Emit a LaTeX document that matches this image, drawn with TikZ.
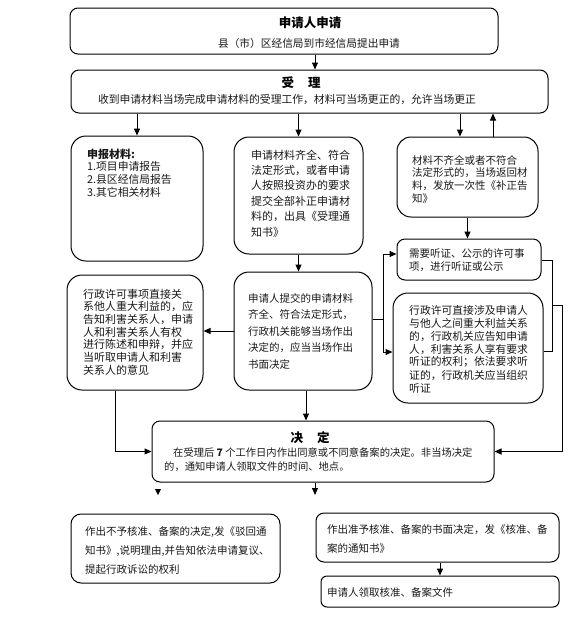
\documentclass[tikz,border=0pt]{standalone}
\usepackage{fontspec}
\setmainfont{Noto Sans CJK SC}
\usetikzlibrary{arrows.meta}
\newcommand\bx[6]{%
  \pgfmathsetmacro\bxw{#4-#2}\pgfmathsetmacro\bxh{#5-#3}%
  \pgfmathsetmacro\bxx{(#2+#4)/2}\pgfmathsetmacro\bxy{(#3+#5)/2}%
  \node[box, rounded corners=#6pt, minimum width=\bxw pt, minimum height=\bxh pt] (#1) at (\bxx,\bxy) {};}
\newcommand\tlines[6]{%
  \foreach \mytext [count=\myi] in {#6}{\node[txt,#2] (#1\myi) at (#3,{#4+(\myi-1)*#5}) {\mytext};}}
\begin{document}
\begin{tikzpicture}[x=1pt,y=-1pt,
  box/.style={draw, line width=1pt, inner sep=0},
  arr/.style={line width=1pt, -{Triangle[length=7pt,width=6pt]}},
  ln/.style={line width=1pt},
  txt/.style={anchor=west, inner sep=0, font=\fontsize{10.5}{12}\selectfont, text=black!90},
  ttl/.style={anchor=center, inner sep=0, font=\fontsize{12.5}{14}\selectfont\bfseries}]
\useasboundingbox (0,0) rectangle (588,625);
% boxes
\bx{A}{70}{8}{498}{54}{8}
\bx{B}{71}{70}{548}{113}{8}
\bx{C}{71}{136}{203}{261}{15}
\bx{D}{234}{137}{363}{254}{15}
\bx{E}{397}{137}{538}{217}{14}
\bx{F}{397}{239}{541}{280}{8}
\bx{G}{393}{293}{543}{403}{15}
\bx{H}{234}{272}{372}{390}{15}
\bx{I}{67}{275}{203}{390}{15}
\bx{J}{152}{421}{494}{482}{8}
\bx{K}{71}{514}{280}{583}{10}
\bx{L}{316}{513}{559}{562}{8}
\bx{M}{321}{576}{559}{607}{6}
% texts
\node[ttl] (At) at (310,23) {申请人申请};
\node[txt,anchor=center,font=\fontsize{10.7}{12}\selectfont] (As) at (309,43) {县（市）区经信局到市经信局提出申请};
\node[ttl] (Bt) at (301,83) {受\hspace{14pt}理};
\node[txt,anchor=center,font=\fontsize{10.8}{12}\selectfont] (Bs) at (287,99) {收到申请材料当场完成申请材料的受理工作，材料可当场更正的，允许当场更正};
\node[txt,font=\fontsize{11}{12}\selectfont\bfseries] (Ct) at (87,154) {申报材料:};
\tlines{Ct}{font=\fontsize{10.8}{12}\selectfont}{87}{166}{13}{1.项目申请报告,2.县区经信局报告,3.其它相关材料}
\tlines{Dt}{font=\fontsize{11}{12}\selectfont}{251}{155}{15.4}{申请材料齐全、符合,法定形式，或者申请,人按照投资办的要求,提交全部补正申请材,料的，出具《受理通,知书》}
\tlines{Et}{}{412}{160}{12.8}{材料不齐全或者不符合,法定形式的，当场返回材,料，发放一次性《补正告,知》}
\tlines{Ft}{}{409}{253}{14}{需要听证、公示的许可事,项，进行听证或公示}
\tlines{Gt}{font=\fontsize{10.8}{12}\selectfont}{409}{310}{13}{行政许可直接涉及申请人,与他人之间重大利益关系,的，行政机关应告知申请,人，利害关系人享有要求,听证的权利；依法要求听,证的，行政机关应当组织,听证}
\tlines{Ht}{}{248}{298}{16.7}{申请人提交的申请材料,齐全、符合法定形式，,行政机关能够当场作出,决定的，应当当场作出,书面决定}
\tlines{It}{font=\fontsize{11}{12}\selectfont}{83}{294}{12.7}{行政许可事项直接关,系他人重大利益的，应,告知利害关系人，申请,人和利害关系人有权,进行陈述和申辩，并应,当听取申请人和利害,关系人的意见}
\node[ttl] (Jt) at (310,438) {决\hspace{14pt}定};
\node[txt,font=\fontsize{10.3}{12}\selectfont] (Jt1) at (173,453) {在受理后 {\bfseries 7} 个工作日内作出同意或不同意备案的决定。非当场决定};
\node[txt,font=\fontsize{10.3}{12}\selectfont] (Jt2) at (164,467) {的，通知申请人领取文件的时间、地点。};
\tlines{Kt}{}{85}{532}{19}{{作出不予核准、备案的决定,发《驳回通},{知书》,说明理由,并告知依法申请复议、},提起行政诉讼的权利}
\tlines{Lt}{}{327}{530}{19}{作出准予核准、备案的书面决定，发《核准、备,案的通知书》}
\node[txt] (Mt) at (327,592) {申请人领取核准、备案文件};
% helper coordinates
\coordinate (x115) at (115,0);
\coordinate (x306) at (306,0);
\coordinate (x315) at (315,0);
\coordinate (x383) at (383,0);
\coordinate (x440) at (440,0);
\coordinate (x460) at (460,0);
\coordinate (x493) at (493,0);
\coordinate (x552) at (552,0);
\coordinate (x562) at (562,0);
\coordinate (y254) at (0,254);
\coordinate (y260) at (0,260);
\coordinate (y305) at (0,305);
\coordinate (y319) at (0,319);
\coordinate (y351) at (0,351);
\coordinate (y352) at (0,352);
\coordinate (Jend) at (315,495);
% connectors
\draw[arr] (A.south -| x315) -- (B.north -| x315);
\draw[arr] (B.south -| C.north) -- (C.north);
\draw[arr] (B.south -| D.north) -- (D.north);
\draw[arr] (B.south -| x460) -- (E.north -| x460);
\draw[arr] (E.north -| x493) -- (B.south -| x493);
\draw[arr] (D.south) -- (D.south |- H.north);
\draw[arr] (E.south) -- (E.south |- F.north);
\draw[arr] (H.west) -- (H.west -| I.east);
\draw[ln] (H.east |- y319) -- (x383 |- y319);
\draw[ln] (x383 |- y254) -- (x383 |- y352);
\draw[arr] (x383 |- y254) -- (F.west |- y254);
\draw[arr] (x383 |- y352) -- (G.west |- y352);
\draw[ln] (F.east |- y260) -- (x552 |- y260) -- (x552 |- y351) -- (G.east |- y351);
\draw[arr] (x552 |- y305) -- (x562 |- y305) -- (x562 |- J.east) -- (J.east);
\draw[arr] (I.south -| x115) -- (x115 |- J.west) -- (J.west);
\draw[arr] (H.south -| x306) -- (J.north -| x306);
\draw[arr] (J.south -| Jend) -- (Jend);
\fill (155,489) -- (161,489) -- (158,495) -- cycle;
\draw[arr] (L.south -| x440) -- (M.north -| x440);
\end{tikzpicture}
\end{document}
